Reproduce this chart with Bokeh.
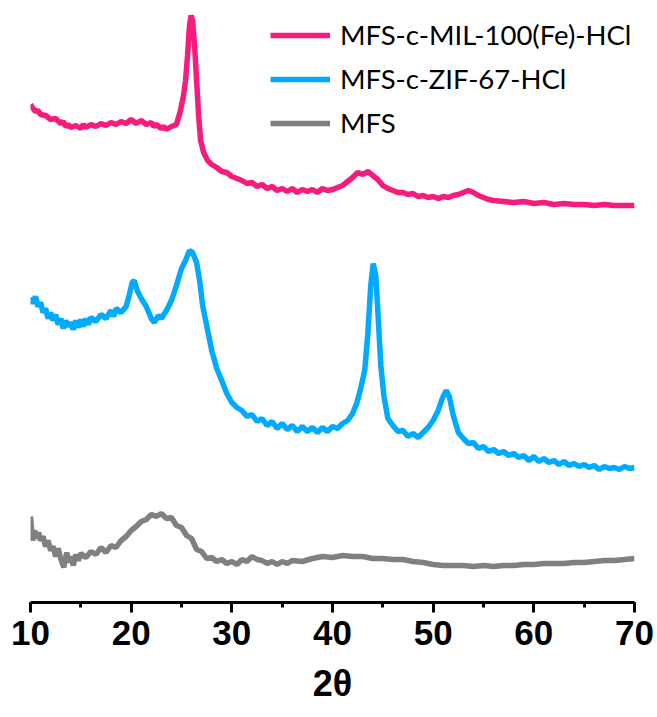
from bokeh.plotting import figure
from bokeh.models import Range1d, SingleIntervalTicker, Legend, LegendItem, Title
from bokeh.embed import file_html
from bokeh.resources import INLINE

# ---- data: 2theta and intensity (a.u., read as height above the axis, curves stacked) ----
mil_x = [10, 10.25, 10.5, 10.75, 11, 11.5, 12, 12.5, 13, 13.25,
         13.5, 13.75, 14, 14.5, 15, 15.25, 15.5, 16, 16.5, 17,
         17.5, 18, 18.5, 19, 19.5, 20, 20.5, 21, 21.5, 22,
         22.25, 22.5, 23, 23.25, 23.5, 24, 24.5, 24.9, 25.2, 25.4,
         25.6, 25.8, 25.95, 26.1, 26.3, 26.5, 26.7, 26.9, 27.2, 27.6,
         28, 28.5, 29, 29.5, 30, 30.5, 31, 31.5, 32, 32.5,
         33, 33.5, 34, 34.5, 35, 35.5, 36, 36.5, 37, 37.5,
         38, 38.5, 39, 39.5, 40, 40.5, 41, 41.5, 42, 42.5,
         43, 43.5, 44, 44.5, 45, 45.5, 46, 46.5, 47, 47.5,
         48, 48.5, 49, 49.5, 50, 50.5, 51, 51.5, 52, 52.5,
         53, 53.5, 54, 54.5, 55, 55.5, 56, 57, 58, 59,
         60, 61, 62, 63, 64, 65, 66, 67, 68, 69,
         70]
mil_px = [104, 108, 111, 110, 114, 115, 119, 118, 123, 121,
          126, 124, 127, 125, 128, 124, 127, 124, 126, 123,
          125, 122, 124, 121, 123, 119, 123, 120, 124, 122,
          126, 124, 128, 126, 129, 126, 124, 110, 95, 80,
          55, 25, 15, 20, 45, 80, 115, 140, 152, 160,
          164, 167, 171, 172, 176, 178, 180, 183, 182, 186,
          184, 188, 186, 190, 188, 191, 188, 192, 189, 191,
          189, 192, 188, 190, 189, 187, 185, 181, 177, 172,
          174, 171, 175, 179, 185, 188, 190, 192, 192, 194,
          193, 196, 195, 197, 196, 198, 196, 197, 195, 194,
          192, 190, 192, 195, 197, 199, 200, 201, 202, 201,
          203, 202, 204, 203, 204, 204, 205, 204, 205, 205,
          205]

zif_x = [10, 10.25, 10.5, 10.75, 11, 11.25, 11.5, 11.75, 12, 12.25,
         12.5, 12.75, 13, 13.25, 13.5, 13.75, 14, 14.25, 14.5, 14.75,
         15, 15.25, 15.5, 15.75, 16, 16.5, 17, 17.5, 18, 18.25,
         18.5, 19, 19.5, 19.8, 20.1, 20.3, 20.6, 21, 21.5, 22,
         22.3, 22.7, 23, 23.5, 24, 24.5, 25, 25.4, 25.8, 26.1,
         26.5, 26.8, 27.1, 27.5, 28, 28.5, 29, 29.5, 30, 30.5,
         31, 31.5, 32, 32.5, 33, 33.5, 34, 34.5, 35, 35.5,
         36, 36.5, 37, 37.5, 38, 38.5, 39, 39.5, 40, 40.5,
         41, 41.5, 42, 42.4, 42.8, 43.2, 43.5, 43.8, 44.05, 44.3,
         44.5, 44.8, 45.1, 45.5, 46, 46.5, 47, 47.5, 48, 48.5,
         49, 49.5, 50, 50.5, 50.9, 51.3, 51.6, 52, 52.5, 53,
         53.5, 54, 54.5, 55, 55.5, 56, 56.5, 57, 57.5, 58,
         58.5, 59, 59.5, 60, 60.5, 61, 61.5, 62, 62.5, 63,
         63.5, 64, 64.5, 65, 65.5, 66, 66.5, 67, 67.5, 68,
         68.5, 69, 69.5, 70]
zif_px = [297, 303, 296, 306, 302, 312, 308, 318, 312, 320,
          314, 324, 318, 328, 320, 326, 322, 329, 320, 327,
          319, 326, 318, 324, 317, 321, 314, 318, 310, 316,
          308, 312, 306, 295, 282, 280, 290, 298, 306, 318,
          322, 315, 318, 310, 300, 285, 268, 260, 250, 252,
          262, 280, 305, 325, 350, 368, 380, 393, 402, 407,
          410, 416, 414, 421, 418, 425, 421, 428, 423, 429,
          425, 431, 426, 431, 427, 432, 427, 431, 426, 428,
          423, 420, 413, 403, 388, 370, 335, 285, 263, 275,
          310, 365, 395, 418, 425, 431, 430, 436, 433, 437,
          432, 427, 420, 410, 398, 390, 396, 415, 432, 438,
          443, 442, 448, 446, 451, 449, 453, 451, 455, 453,
          457, 455, 460, 456, 461, 458, 462, 460, 464, 461,
          465, 463, 466, 464, 467, 465, 469, 466, 468, 467,
          469, 466, 468, 467]

mfs_x = [10, 10.2, 10.4, 10.6, 10.8, 11, 11.25, 11.5, 11.75, 12,
         12.25, 12.5, 12.75, 13, 13.3, 13.6, 13.8, 14, 14.25, 14.5,
         14.75, 15, 15.5, 16, 16.5, 17, 17.5, 18, 18.5, 19,
         19.5, 20, 20.5, 21, 21.5, 22, 22.5, 23, 23.5, 24,
         24.5, 25, 25.5, 26, 26.5, 27, 27.5, 28, 28.5, 29,
         29.5, 30, 30.5, 31, 31.5, 32, 32.5, 33, 33.5, 34,
         34.5, 35, 35.5, 36, 37, 38, 39, 40, 41, 42,
         43, 44, 45, 46, 47, 48, 49, 50, 51, 52,
         53, 54, 55, 56, 57, 58, 59, 60, 61, 62,
         63, 64, 65, 66, 67, 68, 69, 70]
mfs_px = [516, 540, 530, 538, 532, 540, 536, 546, 540, 550,
          546, 556, 548, 558, 567, 552, 562, 556, 565, 554,
          560, 553, 557, 551, 554, 547, 552, 545, 547, 540,
          536, 530, 526, 521, 519, 514, 516, 513, 518, 517,
          525, 527, 535, 538, 549, 551, 558, 557, 561, 559,
          563, 561, 564, 559, 561, 556, 559, 560, 563, 561,
          564, 561, 563, 560, 561, 558, 556, 557, 555, 556,
          556, 558, 558, 559, 559, 561, 562, 564, 565, 565,
          565, 566, 565, 566, 565, 565, 564, 564, 563, 563,
          563, 562, 562, 561, 560, 560, 559, 558]

BASE = 602
mil_y = [BASE - v for v in mil_px]
zif_y = [BASE - v for v in zif_px]
mfs_y = [BASE - v for v in mfs_px]

labels = ["MFS-c-MIL-100(Fe)-HCl", "MFS-c-ZIF-67-HCl", "MFS"]
colors = ["#F71B7B", "#00AAFF", "#808080"]
x_title = "2θ"
x_ticks_interval = 10

p = figure(width=657, height=717, output_backend="svg", toolbar_location=None,
           x_range=Range1d(10, 70), y_range=Range1d(0, BASE),
           y_axis_location=None, min_border_left=30, min_border_right=23,
           min_border_top=0, min_border_bottom=115)
p.outline_line_color = None
p.xgrid.visible = False
p.ygrid.visible = False
p.background_fill_color = "white"
p.border_fill_color = "white"

r1 = p.line(mil_x, mil_y, line_color=colors[0], line_width=5.5)
r2 = p.line(zif_x, zif_y, line_color=colors[1], line_width=5.5)
r3 = p.line(mfs_x, mfs_y, line_color=colors[2], line_width=5.5)

ax = p.xaxis[0]
ax.ticker = SingleIntervalTicker(interval=x_ticks_interval, num_minor_ticks=2)
ax.axis_line_width = 3
ax.axis_line_color = "black"
ax.major_tick_line_width = 3
ax.major_tick_out = 10
ax.major_tick_in = 0
ax.minor_tick_line_width = 3
ax.minor_tick_out = 5
ax.minor_tick_in = 0
ax.major_label_text_font = "Arial, 'Liberation Sans', sans-serif"
ax.major_label_text_font_style = "bold"
ax.major_label_text_font_size = "35px"
ax.major_label_text_color = "black"
ax.major_label_standoff = 8

# axis title as a title panel below the axis
t = Title(text=x_title, align="center",
          text_font="Arial, 'Liberation Sans', sans-serif", text_font_style="bold",
          text_font_size="36px", text_color="black", standoff=27, offset=0)
p.add_layout(t, "below")

legend = Legend(items=[LegendItem(label=labels[0], renderers=[r1]),
                       LegendItem(label=labels[1], renderers=[r2]),
                       LegendItem(label=labels[2], renderers=[r3])],
                location=(240, 463))
legend.padding = 0
legend.margin = 0
legend.spacing = 11
legend.glyph_width = 60
legend.glyph_height = 30
legend.label_height = 30
legend.label_standoff = 10
legend.label_text_font = "Lato"
legend.label_text_font_size = "27.5px"
legend.label_text_color = "black"
legend.border_line_alpha = 0
legend.background_fill_alpha = 0
p.add_layout(legend)

open("out.html", "w").write(file_html(p, INLINE))
